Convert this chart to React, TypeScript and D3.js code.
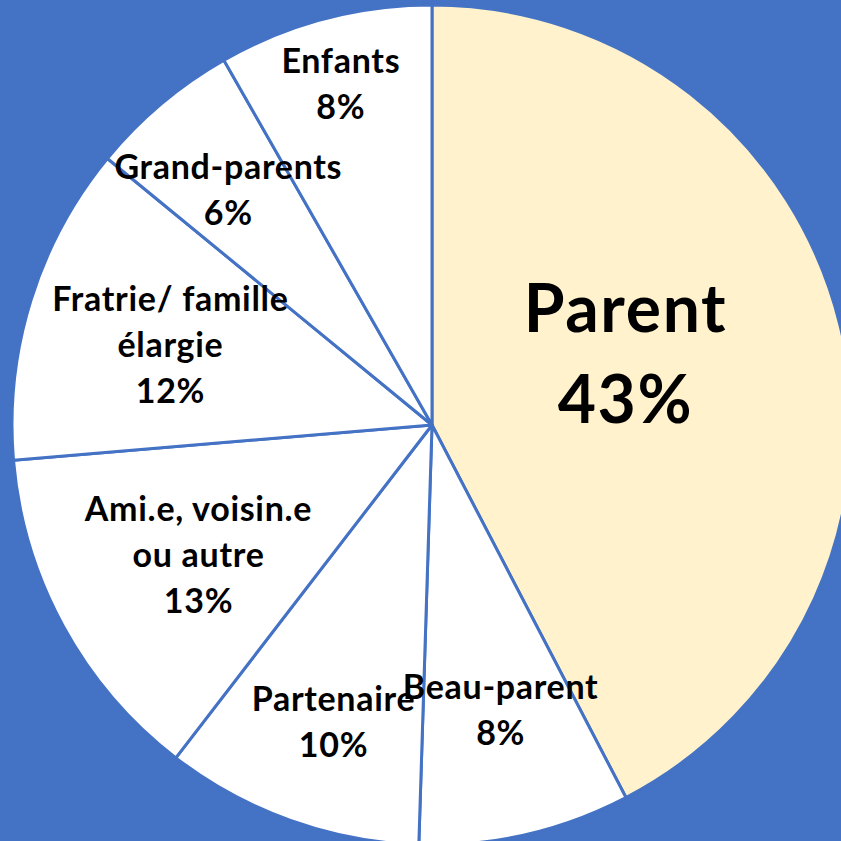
import React from "react";
import * as d3 from "d3";

const categories = ["Parent", "Beau-parent", "Partenaire", "Ami.e, voisin.e ou autre", "Fratrie/ famille élargie", "Grand-parents", "Enfants"];
const values = [42.36, 8.14, 9.94, 13.22, 12.28, 5.81, 8.25];
const pctLabels = ["43%", "8%", "10%", "13%", "12%", "6%", "8%"];
const labelLines = [
  ["Parent"],
  ["Beau-parent"],
  ["Partenaire"],
  ["Ami.e, voisin.e", "ou autre"],
  ["Fratrie/ famille", "élargie"],
  ["Grand-parents"],
  ["Enfants"],
];
const fills = ["#FFF2CC", "#FFFFFF", "#FFFFFF", "#FFFFFF", "#FFFFFF", "#FFFFFF", "#FFFFFF"];

// layout
const W = 841, H = 841;
const CX = 432, CY = 425, R = 420;
const BG = "#4472C4";
const labelRadius = [0.488, 0.699, 0.746, 0.637, 0.652, 0.741, 0.839];
const labelAngleOffsetDeg = [-6.2, -0.6, -1.3, -0.45, -0.3, -0.8, -0.2];
const fontSizes = [66, 34, 34, 34, 34, 34, 34];
const letterSpacings = [1.7, 0.7, 0.7, 0.7, 0.7, 0.7, 0.7];
const lineSpacing = [91, 46, 46, 46, 46, 46, 46];

export default function App() {
  const pie = d3.pie<number>().sort(null).value((d) => d).startAngle(0).endAngle(2 * Math.PI);
  const arcs = pie(values);
  const arc = d3.arc<d3.PieArcDatum<number>>().innerRadius(0).outerRadius(R);

  return (
    <svg width={W} height={H} style={{ position: "fixed", left: 0, top: 0, display: "block" }}>
      <rect x={0} y={0} width={W} height={H} fill={BG} />
      <g transform={`translate(${CX},${CY})`}>
        {arcs.map((a, i) => (
          <path key={categories[i]} d={arc(a) || ""} fill={fills[i]} stroke={BG} strokeWidth={3} strokeLinejoin="round" />
        ))}
        {arcs.map((a, i) => {
          const mid = (a.startAngle + a.endAngle) / 2 + (labelAngleOffsetDeg[i] * Math.PI) / 180;
          const r = R * labelRadius[i];
          const ls0 = letterSpacings[i];
          const x = r * Math.sin(mid) + ls0 / 2;
          const y = -r * Math.cos(mid);
          const lines = [...labelLines[i], pctLabels[i]];
          const fs = fontSizes[i];
          const ls = lineSpacing[i];
          const n = lines.length;
          const capHalf = fs * 0.345;
          return (
            <text
              key={"l" + i}
              textAnchor="middle"
              fontFamily="Lato, 'Open Sans', sans-serif"
              fontWeight={700}
              fontSize={fs}
              letterSpacing={ls0}
              fill="#000000"
            >
              {lines.map((t, j) => (
                <tspan key={j} x={x} y={y + (j - (n - 1) / 2) * ls + capHalf}>
                  {t}
                </tspan>
              ))}
            </text>
          );
        })}
      </g>
    </svg>
  );
}
